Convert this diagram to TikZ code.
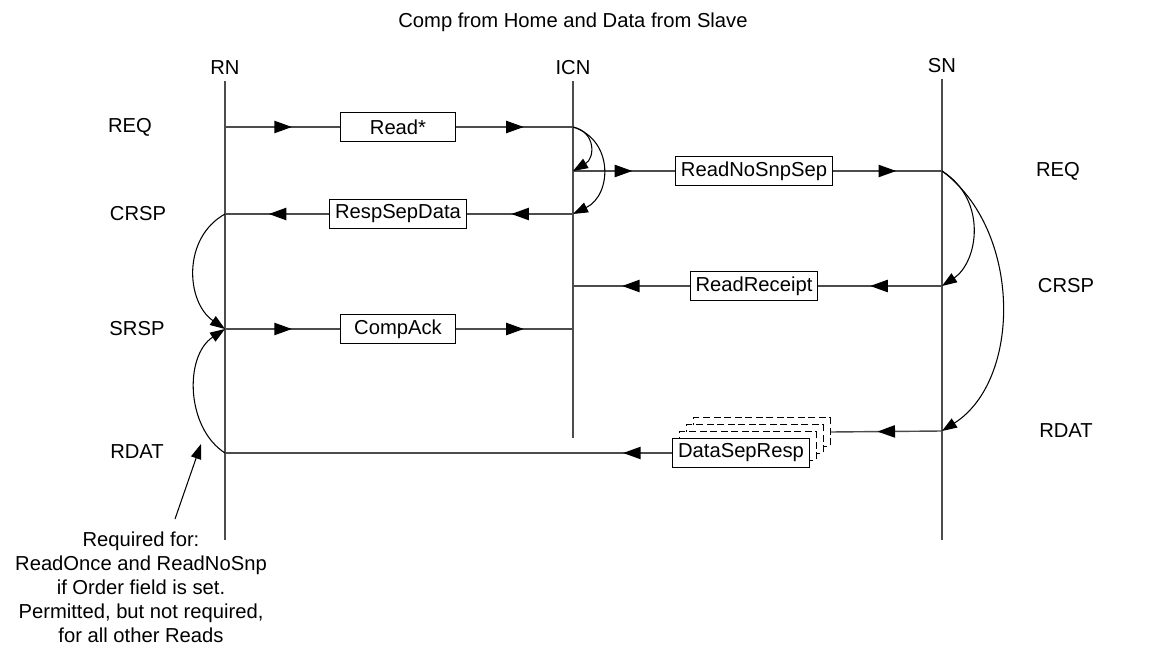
\documentclass[tikz,border=0pt]{standalone}
\usepackage{fontspec}
\setmainfont{Liberation Sans}
\usetikzlibrary{arrows.meta, decorations.markings, positioning}

\begin{document}
\begin{tikzpicture}[x=0.02cm, y=-0.02cm,
    font=\fontsize{11.5}{13.6}\selectfont,
    life/.style={draw=black!70, line width=0.8pt},
    wire/.style={draw=black!70, line width=0.8pt},
    msg/.style={rectangle, draw, line width=0.6pt, fill=white, minimum width=65pt, minimum height=16pt, inner xsep=3pt, inner ysep=2pt},
    midtip/.style={postaction={decorate}, decoration={markings, mark=at position #1 with {\arrow{Triangle[length=10pt, width=7pt, color=black]}}}},
    midtip/.default=0.58,
    curl/.style={-{Triangle[length=8.5pt, width=6pt]}, line width=0.6pt}]
    \useasboundingbox (0,0) rectangle (1163,655);

    \node (title) at (573,22) {Comp from Home and Data from Slave};
    \node (rn) at (225,68) {RN};
    \node (icn) at (573,68) {ICN};
    \node (sn) at (942,66) {SN};

    % lifelines
    \coordinate (rnEnd) at (225,540);
    \coordinate (icnEnd) at (573,438);
    \coordinate (snEnd) at (942,540);
    \draw[life] (rn.south) -- (rnEnd);
    \draw[life] (icn.south) -- (icnEnd);
    \draw[life] (sn.south) -- (snEnd);

    % channel labels
    \node (lreq) at (130,127) {REQ};
    \node (lcrsp) at (138,214) {CRSP};
    \node (lsrsp) at (137,329) {SRSP};
    \node (lrdat) at (137,452) {RDAT};
    \node (rreq) at (1058,171) {REQ};
    \node (rcrsp) at (1066,286) {CRSP};
    \node (rrdat) at (1066,431) {RDAT};

    % points on the lifelines
    \coordinate (rnReq) at (225,127);
    \coordinate (icnReq) at (573,127);
    \coordinate (icnReq2) at (573,171);
    \coordinate (snReq) at (942,171);
    \coordinate (rnCrsp) at (225,214);
    \coordinate (icnCrsp) at (573,214);
    \coordinate (icnCrsp2) at (573,286);
    \coordinate (snCrsp) at (942,286);
    \coordinate (rnSrsp) at (225,329);
    \coordinate (icnSrsp) at (573,329);
    \coordinate (snRdat) at (942,431);
    \coordinate (rnRdat) at (225,453);

    % messages
    \node[msg] (read) at (398,127) {Read*};
    \node[msg] (rnss) at (754,171) {ReadNoSnpSep};
    \node[msg] (resp) at (398,214) {RespSepData};
    \node[msg] (rrcpt) at (754,286) {ReadReceipt};
    \node[msg] (ack) at (398,329) {CompAck};
    \node[msg, dash pattern=on 4pt off 2pt] (dsr3) at (762,432) {\phantom{DataSepResp}};
    \node[msg, dash pattern=on 4pt off 2pt] (dsr2) at (755,439) {\phantom{DataSepResp}};
    \node[msg, dash pattern=on 4pt off 2pt] (dsr1) at (748,446) {\phantom{DataSepResp}};
    \node[msg] (dsr) at (741,453) {DataSepResp};

    \draw[wire, midtip] (rnReq) -- (read.west);
    \draw[wire, midtip] (read.east) -- (icnReq);
    \draw[wire, midtip] (icnReq2) -- (rnss.west);
    \draw[wire, midtip] (rnss.east) -- (snReq);
    \draw[wire, midtip] (icnCrsp) -- (resp.east);
    \draw[wire, midtip] (resp.west) -- (rnCrsp);
    \draw[wire, midtip] (snCrsp) -- (rrcpt.east);
    \draw[wire, midtip] (rrcpt.west) -- (icnCrsp2);
    \draw[wire, midtip] (rnSrsp) -- (ack.west);
    \draw[wire, midtip] (ack.east) -- (icnSrsp);
    \draw[wire, midtip] (snRdat) -- (dsr3.east);
    \draw[wire, midtip=0.11] (dsr.west) -- (rnRdat);

    % ordering arcs
    \draw[curl] (icnReq) .. controls (596,132) and (595,158) .. (icnReq2);
    \draw[curl] (icnReq) .. controls (614,140) and (612,195) .. (icnCrsp);
    \draw[curl] (snReq) .. controls (988,200) and (978,262) .. (snCrsp);
    \draw[curl] (snReq) .. controls (1022,230) and (1022,380) .. (snRdat);
    \draw[curl] (rnCrsp) .. controls (182,238) and (186,302) .. (rnSrsp);
    \draw[curl] (rnRdat) .. controls (186,428) and (184,356) .. (rnSrsp);

    % note
    \node[align=center] (note) at (141,587) {Required for:\\ReadOnce and ReadNoSnp\\if Order field is set.\\Permitted, but not required,\\for all other Reads};
    \coordinate (noteTail) at (175,519);
    \coordinate (noteHead) at (201,444);
    \draw[curl] (noteTail) -- (noteHead);
\end{tikzpicture}
\end{document}
